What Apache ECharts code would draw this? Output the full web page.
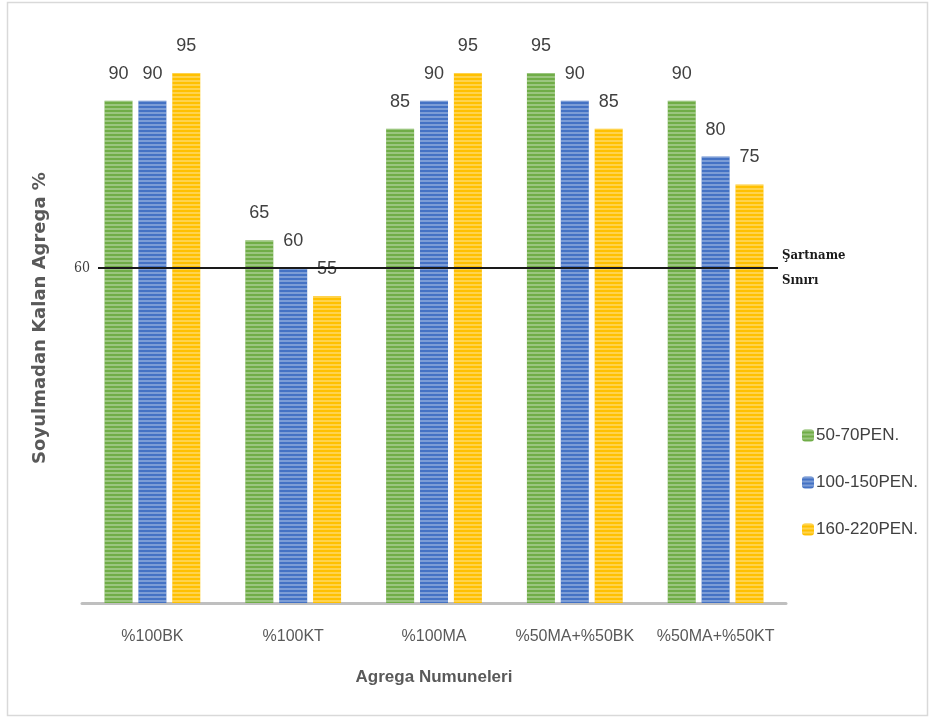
<!DOCTYPE html>
<html><head><meta charset="utf-8">
<script src="https://cdn.jsdelivr.net/npm/echarts@6/dist/echarts.min.js"></script>
<style>html,body{margin:0;padding:0;background:#fff}#c{width:933px;height:720px}</style>
</head><body><div id="c"></div>
<script>
const categories = ['%100BK','%100KT','%100MA','%50MA+%50BK','%50MA+%50KT'];
const seriesNames = ['50-70PEN.','100-150PEN.','160-220PEN.'];
const pen50_70 = [90,65,85,95,90];
const pen100_150 = [90,60,90,90,80];
const pen160_220 = [95,55,95,85,75];
const limitValue = 60;
const limitLabel = 'Şartname\nSınırı';
const colors = ['#70AD47','#4472C4','#FFC000'];
const values = [pen50_70, pen100_150, pen160_220];

const chart = echarts.init(document.getElementById('c'));
const decal = {symbol:'rect', symbolSize:1, dashArrayX:[[1,0]], dashArrayY:[2,2], color:'rgba(255,255,255,0.3)', rotation:0};
const series = values.map((v,i)=>({
  name: seriesNames[i], type:'bar', data:v, barWidth:28, barGap:'21%',
  itemStyle:{color:colors[i], decal:decal},
  label:{show:true, position:'top', distance:18, fontFamily:'Liberation Sans, sans-serif', fontSize:18, color:'#404040'},
  emphasis:{disabled:true}
}));
series.push({
  type:'line', xAxisIndex:1, yAxisIndex:1, data:[], silent:true,
  markLine:{
    symbol:'none', silent:true,
    lineStyle:{color:'#1a1a1a', width:2, type:'solid'},
    label:{show:true, position:'end', formatter:limitLabel, fontFamily:'DejaVu Serif Condensed, serif', fontSize:13, fontWeight:'bold', color:'#1a1a1a', lineHeight:25, distance:4, padding:[6,0,0,0]},
    data:[{yAxis:limitValue}]
  }
});
const grid = {top:45, bottom:117};
chart.setOption({
  animation:false,
  graphic:[{type:'rect', shape:{x:7.5,y:2.5,width:920,height:713}, style:{fill:'none', stroke:'#d9d9d9', lineWidth:1.5}, silent:true}],
  grid:[Object.assign({left:82, right:147}, grid), Object.assign({left:98, right:155}, grid)],
  legend:{orient:'vertical', left:797, top:422, itemWidth:12, itemHeight:12, itemGap:30,
    textStyle:{fontFamily:'Liberation Sans, sans-serif', fontSize:17, color:'#404040', padding:[0,0,0,-3]},
    data:seriesNames},
  xAxis:[{type:'category', data:categories, gridIndex:0,
    axisLine:{lineStyle:{color:'#bfbfbf', width:3}}, axisTick:{show:false},
    axisLabel:{interval:0, margin:26, fontFamily:'Liberation Sans, sans-serif', fontSize:16, color:'#595959'},
    name:'Agrega Numuneleri', nameLocation:'middle', nameGap:66,
    nameTextStyle:{fontFamily:'Liberation Sans, sans-serif', fontSize:17, fontWeight:'bold', color:'#595959'}},
    {type:'category', data:categories, gridIndex:1, show:false}],
  yAxis:[{type:'value', min:0, max:100, interval:20, gridIndex:0,
    axisLine:{show:false}, axisTick:{show:false}, splitLine:{show:false}, axisLabel:{show:false},
    name:'Soyulmadan Kalan Agrega %', nameLocation:'middle', nameGap:33, nameRotate:90,
    nameTextStyle:{fontFamily:'DejaVu Sans, sans-serif', fontSize:18, fontWeight:'bold', color:'#595959', padding:[0,0,0,12]}},
    {type:'value', min:0, max:100, interval:20, gridIndex:1,
    axisLine:{show:false}, axisTick:{show:false}, splitLine:{show:false},
    axisLabel:{formatter:v=> v===limitValue ? String(v) : '', margin:8, fontFamily:'DejaVu Serif Condensed, serif', fontSize:14, color:'#404040'}}],
  series:series
});
</script></body></html>
